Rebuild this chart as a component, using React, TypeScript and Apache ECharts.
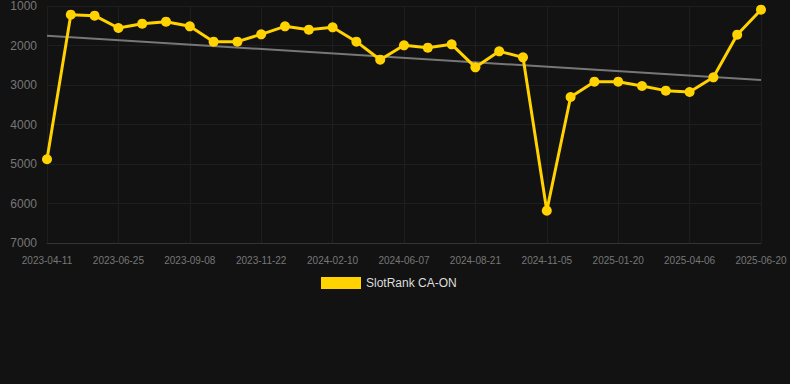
import React, { useEffect, useRef } from "react";
import * as echarts from "echarts";

const categories = [
  "2023-04-11", "2023-05-06", "2023-05-31", "2023-06-25", "2023-07-20", "2023-08-14",
  "2023-09-08", "2023-10-03", "2023-10-28", "2023-11-22", "2023-12-17", "2024-01-16",
  "2024-02-10", "2024-03-20", "2024-04-29", "2024-06-07", "2024-07-02", "2024-07-27",
  "2024-08-21", "2024-09-15", "2024-10-11", "2024-11-05", "2024-11-30", "2024-12-26",
  "2025-01-20", "2025-02-14", "2025-03-12", "2025-04-06", "2025-05-01", "2025-05-26",
  "2025-06-20",
];

const rankValues = [
  4880, 1220, 1245, 1557, 1447, 1397, 1515, 1903, 1903, 1717, 1515, 1600, 1540, 1903,
  2359, 1995, 2055, 1970, 2552, 2148, 2300, 6182, 3304, 2916, 2916, 3025, 3143, 3177,
  2805, 1726, 1093,
];

const trendStart = 1752;
const trendEnd = 2873;

const yTicks = { min: 1000, max: 7000, interval: 1000 };

export default function App() {
  const ref = useRef<HTMLDivElement>(null);

  useEffect(() => {
    document.body.style.margin = "0";
    document.body.style.background = "#121212";
    if (!ref.current) return;
    const chart = echarts.init(ref.current, null, { renderer: "svg" });
    const trendData = categories.map((_, i) =>
      i === 0 ? trendStart : i === categories.length - 1 ? trendEnd : null
    );
    chart.setOption({
      animation: false,
      backgroundColor: "#121212",
      grid: { left: 47, right: 29, top: 6, bottom: 141 },
      legend: {
        top: 272,
        left: 316,
        data: ["SlotRank CA-ON"],
        itemWidth: 40,
        itemHeight: 12,
        itemGap: 10,
        icon: "rect",
        textStyle: { color: "#dddddd", fontSize: 12, fontFamily: "Liberation Sans, Arial, sans-serif" },
      },
      xAxis: {
        type: "category",
        data: categories,
        boundaryGap: false,
        axisLine: { lineStyle: { color: "#333333" } },
        axisTick: { show: false },
        axisLabel: {
          interval: 2,
          color: "#777777",
          fontSize: 10,
          margin: 12,
          fontFamily: "Liberation Sans, Arial, sans-serif",
        },
        splitLine: { show: true, interval: 2, lineStyle: { color: "#1e1e1e" } },
      },
      yAxis: {
        type: "value",
        inverse: true,
        min: yTicks.min,
        max: yTicks.max,
        interval: yTicks.interval,
        axisLine: { show: false },
        axisTick: { show: false },
        axisLabel: {
          color: "#777777",
          fontSize: 12,
          margin: 10,
          formatter: (v: number) => String(v),
          fontFamily: "Liberation Sans, Arial, sans-serif",
        },
        splitLine: { lineStyle: { color: "#1e1e1e" } },
      },
      series: [
        {
          name: "Trend",
          type: "line",
          data: trendData,
          connectNulls: true,
          showSymbol: false,
          symbol: "none",
          lineStyle: { color: "#777777", width: 2 },
          itemStyle: { color: "#777777" },
          z: 1,
        },
        {
          name: "SlotRank CA-ON",
          type: "line",
          data: rankValues,
          symbol: "circle",
          symbolSize: 10,
          lineStyle: { color: "#FFD200", width: 3 },
          itemStyle: { color: "#FFD200" },
          z: 2,
        },
      ],
    });
    return () => chart.dispose();
  }, []);

  return <div ref={ref} style={{ width: 790, height: 384 }} />;
}
